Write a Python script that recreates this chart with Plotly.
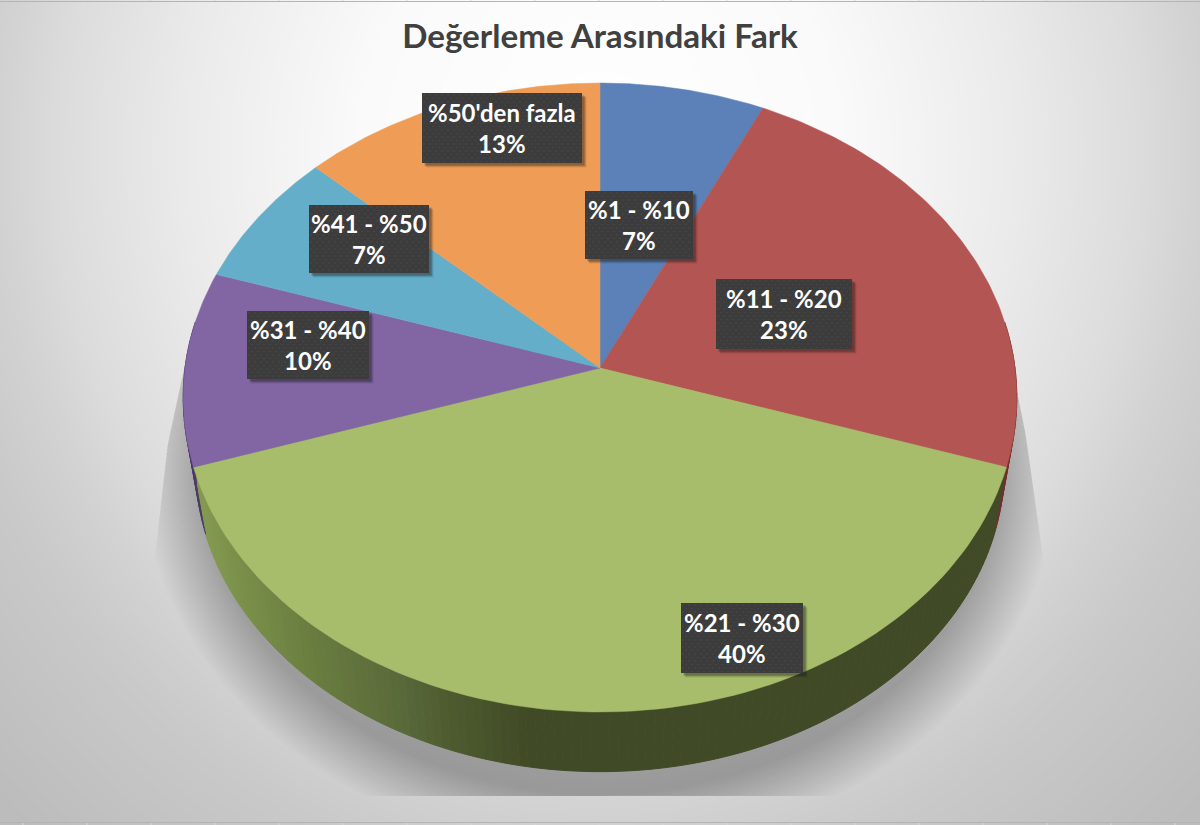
import numpy as np
import plotly.graph_objects as go

# ---- data ----
categories = ["%1 - %10", "%11 - %20", "%21 - %30", "%31 - %40", "%41 - %50", "%50'den fazla"]
values = [7, 23, 40, 10, 7, 13]
title_text = "Değerleme Arasındaki Fark"

# ---- style ----
top_colors = ["#5b81b8", "#b35552", "#a8bd6b", "#8166a3", "#65aec9", "#ef9c56"]
wall_colors = ["#3a4f70", "#74302e", "#404a26", "#4d3a68", "#3d6f80", "#9a6030"]
label_boxes = [(585, 693, 191, 259), (716, 852, 279, 349), (681, 803, 603, 673),
               (247, 369, 311, 379), (309, 429, 205, 273), (422, 582, 93, 163)]
W, H = 1200, 825
CX, CY, A, HH, K = 600, 368, 415, 311.7, 0.0938
S, CY2 = 0.97, 438


def project(theta, scale=1.0, cy=CY):
    u, v = np.sin(theta), np.cos(theta)
    d = 1 + K * v
    return CX + scale * A * u / d, cy - scale * HH * v / d


fig = go.Figure()

# background
gx = np.linspace(0, W, 61)
gy = np.linspace(2, 822, 42)
X, Y = np.meshgrid(gx, gy)
rho = np.sqrt(((X - 600) / 600) ** 2 + ((Y - 150) / 660) ** 2)
gray = np.interp(rho, [0, 0.4, 0.7, 0.9, 1.0, 1.12, 1.4], [255, 250, 234, 220, 210, 201, 188])
fig.add_trace(go.Heatmap(x=gx, y=gy, z=gray, zmin=0, zmax=255, zsmooth="best", showscale=False,
                         colorscale=[[0, "#000000"], [1, "#ffffff"]], hoverinfo="skip"))

# shadow below the pie
t = np.linspace(0, 2 * np.pi, 360)
for d in np.linspace(62, 5, 30):
    sx = 600 + (400 + d) * np.sin(t)
    sy = 455 + (335 + d) * np.cos(t)
    sy = np.clip(sy, 340, 796)
    left = np.where(sy < 440, 168 + (440 - sy) * 0.22, 168 - (sy - 440) * 0.115)
    right = np.where(sy < 440, 1027 - (440 - sy) * 0.2, 1027 + (sy - 440) * 0.138)
    sx = np.clip(sx, left, right)
    fig.add_trace(go.Scatter(x=sx, y=sy, mode="lines", fill="toself", line=dict(width=0),
                             fillcolor="rgba(0,0,0,0.008)", hoverinfo="skip", showlegend=False))

# side wall, then top slices
fracs = np.cumsum([0] + values) / sum(values) * 2 * np.pi
for i in range(len(values)):
    a0, a1 = fracs[i], fracs[i + 1]
    lo, hi = max(a0, np.pi / 2 - 0.15), min(a1, 3 * np.pi / 2 + 0.15)
    if hi > lo:
        edges = np.linspace(lo, hi, max(2, int((hi - lo) * 50)))
        for e0, e1 in zip(edges[:-1], edges[1:]):
            th = np.linspace(e0, e1, 4)
            x1, y1 = project(th)
            x2, y2 = project(th[::-1], S, CY2)
            mx = x1.mean()
            color = wall_colors[i]
            if i == 2:
                c = np.interp(mx, [200, 300, 400, 450, 530], [131, 107, 89, 77, 64])
                c2 = np.interp(mx, [200, 300, 400, 450, 530], [153, 127, 105, 90, 74])
                c3 = np.interp(mx, [200, 300, 400, 450, 530], [79, 64, 58, 46, 38])
                color = f"rgb({c:.0f},{c2:.0f},{c3:.0f})"
            fig.add_trace(go.Scatter(x=np.r_[x1, x2], y=np.r_[y1, y2], mode="lines", fill="toself",
                                     fillcolor=color, line=dict(color=color, width=1),
                                     hoverinfo="skip", showlegend=False))

for i, cat in enumerate(categories):
    th = np.linspace(fracs[i], fracs[i + 1], 90)
    x, y = project(th)
    fig.add_trace(go.Scatter(x=np.r_[CX, x, CX], y=np.r_[CY, y, CY], mode="lines", fill="toself",
                             fillcolor=top_colors[i], line=dict(color=top_colors[i], width=0.5),
                             name=cat, hoverinfo="skip", showlegend=False))

# data labels
dots_x, dots_y = [], []
for i, (cat, val) in enumerate(zip(categories, values)):
    x0, x1, y0, y1 = label_boxes[i]
    for off, alpha in [(4.5, 0.10), (3.5, 0.16), (2.5, 0.25)]:
        fig.add_trace(go.Scatter(x=[x0 + off, x1 + off, x1 + off, x0 + off, x0 + off],
                                 y=[y0 + off, y0 + off, y1 + off, y1 + off, y0 + off],
                                 mode="lines", fill="toself", fillcolor=f"rgba(20,20,20,{alpha})",
                                 line=dict(width=0), hoverinfo="skip", showlegend=False))
    fig.add_trace(go.Scatter(x=[x0, x1, x1, x0, x0], y=[y0, y0, y1, y1, y0], mode="lines", fill="toself",
                             fillcolor="#3c3c3c", line=dict(width=0), hoverinfo="skip", showlegend=False))
    for r, yy in enumerate(np.arange(y0 + 2, y1 - 1, 3.5)):
        for xx in np.arange(x0 + 2 + (r % 2) * 3, x1 - 1, 6):
            dots_x.append(xx)
            dots_y.append(yy)
    fig.add_annotation(x=(x0 + x1) / 2, y=(y0 + y1) / 2, text=f"<b>{cat}<br>{val}%</b>", showarrow=False,
                       font=dict(family="Lato", size=24, color="#ffffff"), align="center",
                       xanchor="center", yanchor="middle")
fig.add_trace(go.Scatter(x=dots_x, y=dots_y, mode="markers", marker=dict(size=1.5, color="#4b4b4b"),
                         hoverinfo="skip", showlegend=False))

# sheet grid remnants
tick_xs = np.arange(23, W, 64)
for yy0, yy1 in [(0, 2), (822, 825)]:
    tx = np.repeat(tick_xs, 3).astype(float)
    ty = np.tile([yy0, yy1, np.nan], len(tick_xs))
    tx[2::3] = np.nan
    fig.add_trace(go.Scatter(x=tx, y=ty, mode="lines", line=dict(color="#d8d8d8", width=1),
                             hoverinfo="skip", showlegend=False))
for yy in [1.5, 822.5]:
    fig.add_shape(type="line", x0=0, x1=W, y0=yy, y1=yy, line=dict(color="#b4b4b4", width=1))

fig.update_layout(
    width=W, height=H, margin=dict(l=0, r=0, t=0, b=0), showlegend=False,
    paper_bgcolor="#ffffff", plot_bgcolor="#ffffff",
    title=dict(text=f"<b>{title_text}</b>", x=0.5, xanchor="center", y=1 - 36 / H, yanchor="middle",
               font=dict(family="Lato", size=33.2, color="#404040")),
    xaxis=dict(range=[0, W], visible=False, fixedrange=True),
    yaxis=dict(range=[H, 0], visible=False, fixedrange=True),
)
fig.write_html("out.html", config={"displayModeBar": False},
               post_script="document.body.style.margin='0';document.documentElement.style.overflow='hidden';")
